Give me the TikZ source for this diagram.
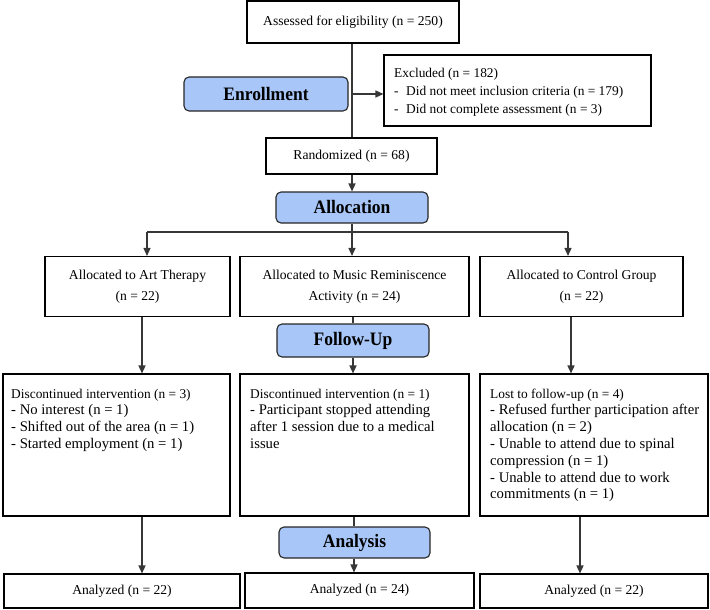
\documentclass[tikz,border=0pt]{standalone}
\usepackage{fontspec}
\setmainfont{Liberation Serif}[BoldFeatures={FakeStretch=0.92}]
\usetikzlibrary{arrows.meta}
\definecolor{stageblue}{RGB}{168,198,248}
\definecolor{linegray}{RGB}{55,55,55}
\begin{document}
\begin{tikzpicture}[x=1pt,y=-1pt,
 box/.style={draw=black, line width=1.1pt, fill=white, inner sep=0pt, font=\fontsize{13.6}{21.5}\selectfont, align=center},
 stage/.style={draw=black!85, line width=1.1pt, rounded corners=5pt, fill=stageblue, inner sep=0pt, font=\bfseries\fontsize{19}{21}\selectfont},
 conn/.style={draw=linegray, line width=1.4pt},
 arr/.style={conn, -{Triangle[length=8pt,width=7pt]}},
 txt/.style={inner sep=0pt, anchor=north west, align=left, font=\fontsize{14.7}{16.8}\selectfont},
 exbox/.style={inner sep=0pt, anchor=north west, align=left, font=\fontsize{13.4}{18}\selectfont}
]
\useasboundingbox (0,0) rectangle (710,610);

% boxes
\node[box, minimum width=212, minimum height=42] (assess) at (353,22) {Assessed for eligibility (n = 250)};
\node[box, minimum width=267, minimum height=71] (excl) at (517.5,90.5) {};
\node[exbox] (excltxt) at (394,68.5) {Excluded (n = 182)\\
\makebox[12pt][l]{-}Did not meet inclusion criteria (n = 179)\\
\makebox[12pt][l]{-}Did not complete assessment (n = 3)};
\node[stage, minimum width=164, minimum height=34] (enroll) at (266,94) {Enrollment};
\node[box, minimum width=171, minimum height=36] (rand) at (351.5,156) {Randomized (n = 68)};
\node[stage, minimum width=152, minimum height=31] (alloc) at (352,207.5) {Allocation};

\node[box, minimum width=185, minimum height=60] (al1) at (137.5,286.5) {Allocated to Art Therapy\\(n = 22)};
\node[box, minimum width=229, minimum height=60] (al2) at (354.5,286.5) {Allocated to Music Reminiscence\\Activity (n = 24)};
\node[box, minimum width=203, minimum height=60] (al3) at (581.5,286.5) {Allocated to Control Group\\(n = 22)};

\node[stage, minimum width=152, minimum height=33] (follow) at (353,340.5) {Follow-Up};

\node[box, minimum width=227, minimum height=142] (d1) at (116.5,445) {};
\node[box, minimum width=229, minimum height=142] (d2) at (354.5,445) {};
\node[box, minimum width=228, minimum height=142] (d3) at (594,445) {};

\node[txt] (d1t) at (11,388.5) {{\fontsize{13.4}{16.8}\selectfont Discontinued intervention (n = 3)}\\
- No interest (n = 1)\\
- Shifted out of the area (n = 1)\\
- Started employment (n = 1)};
\node[txt] (d2t) at (250,388.5) {{\fontsize{13.4}{16.8}\selectfont Discontinued intervention (n = 1)}\\
- Participant stopped attending\\
after 1 session due to a medical\\
issue};
\node[txt] (d3t) at (490,388.5) {{\fontsize{13.4}{16.8}\selectfont Lost to follow-up (n = 4)}\\
- Refused further participation after\\
allocation (n = 2)\\
- Unable to attend due to spinal\\
compression (n = 1)\\
- Unable to attend due to work\\
commitments (n = 1)};

\node[stage, minimum width=151, minimum height=31] (analysis) at (354.5,542.5) {Analysis};

\node[box, minimum width=236, minimum height=34] (an1) at (122,591) {Analyzed (n = 22)};
\node[box, minimum width=229, minimum height=35] (an2) at (359.5,590.5) {Analyzed (n = 24)};
\node[box, minimum width=228, minimum height=34] (an3) at (594,591) {Analyzed (n = 22)};

% helper coordinates
\coordinate (b1) at (352,94);
\coordinate (h) at (352,232);
\coordinate (hl) at (147,232);
\coordinate (hr) at (568,232);
\coordinate (c1) at (142,0);
\coordinate (c3) at (571,0);
\coordinate (c4) at (580,0);
\coordinate (cm) at (354,0);

% connectors
\draw[conn] (assess.south -| b1) -- (rand.north -| b1);
\draw[arr] (b1) -- (b1 -| excl.west);
\draw[arr] (rand.south -| b1) -- (alloc.north -| b1);
\draw[conn] (alloc.south -| h) -- (h);
\draw[conn] (hl) -- (hr);
\draw[arr] (hl) -- (hl |- al1.north);
\draw[arr] (h) -- (h |- al2.north);
\draw[arr] (hr) -- (hr |- al3.north);

\draw[arr] (al1.south -| c1) -- (d1.north -| c1);
\draw[conn] (al2.south -| follow.north) -- (follow.north);
\draw[arr] (follow.south) -- (follow.south |- d2.north);
\draw[arr] (al3.south -| c3) -- (d3.north -| c3);

\draw[arr] (d1.south -| c1) -- (an1.north -| c1);
\draw[conn] (d2.south -| cm) -- (analysis.north -| cm);
\draw[arr] (analysis.south -| cm) -- (an2.north -| cm);
\draw[arr] (d3.south -| c4) -- (an3.north -| c4);
\end{tikzpicture}
\end{document}
